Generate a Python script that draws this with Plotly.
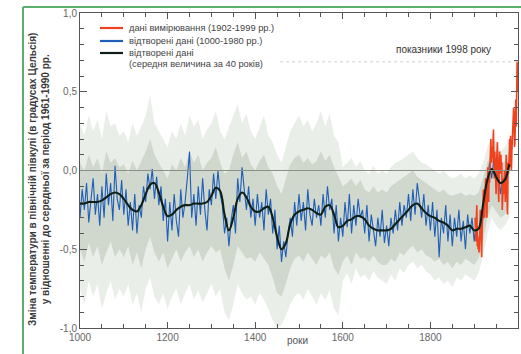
import plotly.graph_objects as go

# ---------------- data ----------------
# reconstructed annual-ish series (5-year resolution), 1000-1980
blue_years = list(range(1000, 1981, 5))
blue_vals = [
    -0.30, -0.12, -0.25, -0.08, -0.33, -0.18, -0.05, -0.28, -0.15, -0.35,
    -0.10, -0.30, -0.02, -0.22, -0.08, -0.32, 0.03, -0.18, -0.25, -0.06,
    -0.28, -0.12, -0.35, -0.20, -0.38, -0.15, -0.40, -0.22, -0.30, -0.10,
    -0.20, -0.02, -0.12, 0.01, -0.18, -0.04, -0.22, -0.10, -0.32, -0.18,
    -0.45, -0.20, -0.38, -0.15, -0.32, -0.42, -0.12, -0.30, -0.20, -0.05,
    0.12, -0.30, -0.15, -0.35, -0.10, -0.28, -0.05, -0.25, -0.38, -0.12,
    -0.22, -0.02, -0.18, 0.00, -0.15, -0.22, -0.40, -0.30, -0.48, -0.32,
    -0.22, -0.40, -0.05, -0.20, 0.02, -0.12, -0.25, -0.10, -0.30, -0.18,
    -0.35, -0.15, -0.30, -0.20, -0.38, -0.12, -0.28, -0.18, -0.40, -0.25,
    -0.50, -0.35, -0.58, -0.45, -0.55, -0.40, -0.30, -0.42, -0.20, -0.35,
    -0.15, -0.32, -0.20, -0.38, -0.12, -0.28, -0.35, -0.18, -0.30, -0.22,
    -0.35, -0.15, -0.30, -0.10, -0.25, -0.18, -0.40, -0.22, -0.45, -0.30,
    -0.42, -0.20, -0.36, -0.15, -0.40, -0.22, -0.35, -0.18, -0.30, -0.25,
    -0.40, -0.22, -0.45, -0.28, -0.38, -0.48, -0.30, -0.42, -0.25, -0.46,
    -0.35, -0.48, -0.30, -0.40, -0.25, -0.38, -0.20, -0.35, -0.22, -0.30,
    -0.15, -0.32, -0.12, -0.28, -0.08, -0.20, -0.30, -0.15, -0.35, -0.22,
    -0.38, -0.20, -0.42, -0.25, -0.55, -0.30, -0.40, -0.22, -0.45, -0.28,
    -0.48, -0.30, -0.42, -0.25, -0.45, -0.32, -0.50, -0.28, -0.40, -0.30,
    -0.45, -0.32, -0.50, -0.38, -0.30, -0.15, -0.08, 0.05, -0.05, 0.08,
    -0.10, 0.02, -0.15, -0.05, -0.12, -0.02, 0.05,
]

# 40-year smoothed reconstruction, 1000-1980
smooth_years = list(range(1000, 1981, 10))
smooth_vals = [
    -0.21, -0.21, -0.20, -0.20, -0.20, -0.19, -0.17, -0.15, -0.14, -0.15,
    -0.18, -0.22, -0.25, -0.26, -0.22, -0.15, -0.09, -0.08, -0.14, -0.23,
    -0.29, -0.28, -0.25, -0.23, -0.22, -0.22, -0.21, -0.21, -0.21, -0.20,
    -0.16, -0.11, -0.13, -0.28, -0.38, -0.30, -0.18, -0.14, -0.17, -0.23,
    -0.26, -0.26, -0.24, -0.23, -0.30, -0.42, -0.50, -0.46, -0.34, -0.28,
    -0.26, -0.25, -0.24, -0.25, -0.27, -0.28, -0.23, -0.22, -0.28, -0.36,
    -0.35, -0.32, -0.31, -0.29, -0.29, -0.31, -0.35, -0.37, -0.38, -0.38,
    -0.38, -0.37, -0.34, -0.31, -0.28, -0.25, -0.22, -0.21, -0.24, -0.27,
    -0.29, -0.30, -0.32, -0.33, -0.35, -0.38, -0.37, -0.37, -0.36, -0.35,
    -0.38, -0.37, -0.22, -0.06, 0.01, -0.04, -0.08, -0.06, 0.04,
]

# uncertainty band (outer, faint), 1000-1980
band_years = list(range(1000, 1981, 10))
band_upper = [
    0.30, 0.22, 0.35, 0.25, 0.32, 0.20, 0.38, 0.28, 0.30, 0.22,
    0.25, 0.18, 0.30, 0.22, 0.28, 0.35, 0.48, 0.30, 0.25, 0.20,
    0.15, 0.25, 0.20, 0.30, 0.22, 0.35, 0.28, 0.32, 0.20, 0.26,
    0.30, 0.38, 0.25, 0.20, 0.28, 0.35, 0.42, 0.30, 0.36, 0.25,
    0.20, 0.28, 0.35, 0.22, 0.18, 0.10, 0.05, 0.15, 0.25, 0.30,
    0.35, 0.28, 0.32, 0.25, 0.30, 0.38, 0.28, 0.36, 0.22, 0.18,
    0.02, 0.05, 0.08, 0.02, 0.06, 0.00, -0.02, 0.03, -0.02, 0.00,
    -0.02, 0.02, 0.05, 0.06, 0.08, 0.10, 0.12, 0.08, 0.05, 0.04,
    0.02, 0.00, -0.02, 0.00, -0.03, -0.05, -0.04, -0.02, -0.05, -0.03,
    -0.05, -0.02, 0.05, 0.15, 0.22, 0.18, 0.12, 0.15, 0.20,
]
band_lower = [
    -0.75, -0.85, -0.70, -0.80, -0.72, -0.88, -0.78, -0.70, -0.82, -0.75,
    -0.80, -0.72, -0.85, -0.78, -0.90, -0.75, -0.68, -0.80, -0.85, -0.78,
    -0.88, -0.80, -0.75, -0.85, -0.78, -0.72, -0.82, -0.76, -0.84, -0.78,
    -0.72, -0.80, -0.75, -0.90, -0.95, -0.85, -0.72, -0.78, -0.82, -0.80,
    -0.85, -0.78, -0.82, -0.88, -0.95, -1.00, -0.98, -0.92, -0.85, -0.80,
    -0.78, -0.82, -0.75, -0.80, -0.85, -0.78, -0.82, -0.76, -0.88, -0.92,
    -0.70, -0.65, -0.72, -0.62, -0.68, -0.66, -0.70, -0.64, -0.68, -0.70,
    -0.72, -0.66, -0.70, -0.62, -0.65, -0.60, -0.58, -0.62, -0.60, -0.64,
    -0.66, -0.70, -0.68, -0.72, -0.70, -0.74, -0.68, -0.70, -0.66, -0.68,
    -0.70, -0.65, -0.55, -0.40, -0.30, -0.35, -0.38, -0.35, -0.30,
]
# uncertainty band (inner, denser core), 1000-1980
core_upper = [
    0.05, 0.00, 0.10, 0.02, 0.08, -0.02, 0.12, 0.05, 0.08, 0.02,
    0.04, -0.02, 0.06, 0.00, 0.06, 0.12, 0.20, 0.10, 0.05, 0.00,
    -0.05, 0.04, 0.00, 0.08, 0.02, 0.12, 0.05, 0.10, 0.00, 0.05,
    0.08, 0.15, 0.05, -0.02, 0.00, 0.10, 0.18, 0.08, 0.12, 0.04,
    0.00, 0.06, 0.10, 0.02, -0.02, -0.10, -0.15, -0.05, 0.04, 0.08,
    0.10, 0.05, 0.08, 0.04, 0.06, 0.12, 0.06, 0.10, 0.02, -0.04,
    -0.10, -0.08, -0.05, -0.10, -0.06, -0.12, -0.14, -0.10, -0.14, -0.12,
    -0.14, -0.10, -0.08, -0.06, -0.04, -0.02, 0.00, -0.04, -0.06, -0.08,
    -0.10, -0.12, -0.14, -0.12, -0.15, -0.16, -0.15, -0.14, -0.16, -0.15,
    -0.16, -0.14, -0.05, 0.05, 0.12, 0.08, 0.04, 0.06, 0.12,
]
core_lower = [
    -0.50, -0.58, -0.46, -0.55, -0.48, -0.60, -0.52, -0.45, -0.55, -0.50,
    -0.55, -0.48, -0.60, -0.52, -0.62, -0.50, -0.42, -0.52, -0.58, -0.52,
    -0.62, -0.56, -0.50, -0.58, -0.52, -0.48, -0.55, -0.50, -0.58, -0.52,
    -0.48, -0.52, -0.50, -0.62, -0.70, -0.60, -0.48, -0.52, -0.56, -0.55,
    -0.58, -0.52, -0.56, -0.60, -0.68, -0.78, -0.80, -0.72, -0.62, -0.56,
    -0.54, -0.58, -0.52, -0.56, -0.60, -0.54, -0.56, -0.52, -0.62, -0.66,
    -0.58, -0.54, -0.60, -0.52, -0.56, -0.55, -0.58, -0.54, -0.58, -0.60,
    -0.60, -0.56, -0.58, -0.52, -0.54, -0.50, -0.48, -0.52, -0.50, -0.54,
    -0.55, -0.58, -0.56, -0.60, -0.58, -0.62, -0.58, -0.60, -0.56, -0.58,
    -0.60, -0.56, -0.45, -0.30, -0.22, -0.26, -0.30, -0.28, -0.22,
]

# instrumental record 1902-1999
red_years = list(range(1902, 2000))
red_vals = [
    -0.30, -0.38, -0.45, -0.30, -0.22, -0.48, -0.42, -0.50, -0.45, -0.52,
    -0.48, -0.38, -0.25, -0.28, -0.45, -0.55, -0.40, -0.30, -0.28, -0.12,
    -0.30, -0.22, -0.30, -0.15, -0.05, -0.12, -0.10, -0.30, -0.02, 0.02,
    -0.05, -0.20, 0.00, -0.08, 0.02, 0.12, 0.20, 0.10, 0.05, 0.15,
    0.08, 0.18, 0.26, 0.10, -0.05, 0.12, 0.02, -0.02, -0.15, 0.05,
    0.10, 0.18, -0.02, -0.10, -0.20, 0.05, 0.12, 0.06, -0.02, 0.10,
    0.02, 0.05, -0.25, -0.18, -0.08, -0.05, -0.15, 0.00, -0.05, -0.20,
    -0.12, 0.10, -0.18, -0.08, -0.28, 0.05, -0.02, 0.02, 0.10, 0.20,
    0.02, 0.22, 0.05, 0.00, 0.12, 0.18, 0.28, 0.25, 0.40, 0.35,
    0.15, 0.18, 0.30, 0.45, 0.28, 0.48, 0.69, 0.50,
]

y_tick_vals = [-1.0, -0.5, 0.0, 0.5, 1.0]
y_tick_text = ["-1,0", "-0,5", "0,0", "0,5", "1,0"]
x_tick_vals = [1000, 1200, 1400, 1600, 1800, 2000]

legend_labels = [
    "дані вимірювання (1902-1999 рр.)",
    "відтворені дані (1000-1980 рр.)",
    "відтворені дані",
    "(середня величина за 40 років)",
]
y_title = ["Зміна температури в північній півкулі (в градусах Цельсія)",
           "у відношенні до середньої за період 1961-1990 рр."]
x_title = "роки"
note_1998 = "показники 1998 року"

# ---------------- geometry helpers ----------------
W, H = 521, 354
L, R, T, B = 80, 518, 13, 328


def px_x(p):
    return (p - L) / (R - L)


def px_y(p):
    return (B - p) / (B - T)


RED = "#f0401c"
BLUE = "#1f5fb8"
BLACK = "#0f1f18"
BAND_OUT = "rgba(200,210,195,0.38)"
BAND_IN = "rgba(185,196,180,0.55)"
FONT = "Liberation Sans, Arial, sans-serif"

fig = go.Figure()

# uncertainty bands
for up, lo, col in [(band_upper, band_lower, BAND_OUT), (core_upper, core_lower, BAND_IN)]:
    fig.add_trace(go.Scatter(x=band_years, y=up, mode="lines",
                             line=dict(width=0, color=col), hoverinfo="skip",
                             showlegend=False))
    fig.add_trace(go.Scatter(x=band_years, y=lo, mode="lines",
                             line=dict(width=0, color=col), fill="tonexty",
                             fillcolor=col, hoverinfo="skip", showlegend=False))

# zero line
fig.add_hline(y=0, line=dict(color="#8a8f88", width=1))

# reconstructed (blue)
fig.add_trace(go.Scatter(x=blue_years, y=blue_vals, mode="lines",
                         line=dict(color=BLUE, width=1.1), showlegend=False))
# instrumental (red)
fig.add_trace(go.Scatter(x=red_years, y=red_vals, mode="lines",
                         line=dict(color=RED, width=1.6), showlegend=False))
# smoothed (black)
fig.add_trace(go.Scatter(x=smooth_years, y=smooth_vals, mode="lines",
                         line=dict(color=BLACK, width=2.1, shape="spline"),
                         showlegend=False))

# 1998 reference dotted line
v1998 = red_vals[red_years.index(1998)]
fig.add_shape(type="line", xref="x", yref="y", x0=1457, x1=1998,
              y0=v1998, y1=v1998,
              line=dict(color="#cfcfcf", width=1, dash="dot"))
fig.add_annotation(x=1829, y=0.77, xref="x", yref="y", text=note_1998,
                   showarrow=False, font=dict(family=FONT, size=10, color="#333"))

# legend (manual)
leg_colors = [RED, BLUE, BLACK]
leg_y = [28, 41, 53]
for c, yy in zip(leg_colors, leg_y):
    fig.add_shape(type="line", xref="paper", yref="paper",
                  x0=px_x(100), x1=px_x(123), y0=px_y(yy), y1=px_y(yy),
                  line=dict(color=c, width=2.2))
for txt, yy in zip(legend_labels, [28, 41, 53, 64]):
    fig.add_annotation(x=px_x(127), y=px_y(yy), xref="paper", yref="paper",
                       text=txt, showarrow=False, xanchor="left", yanchor="middle",
                       font=dict(family=FONT, size=9.3, color="#444"))

# axis titles
fig.add_annotation(x=px_x(39), y=px_y(180), xref="paper", yref="paper",
                   text="<b>" + y_title[0] + "</b><br><b>" + y_title[1] + "</b>",
                   textangle=-90, showarrow=False, xanchor="center", yanchor="middle",
                   font=dict(family=FONT, size=10, color="#3a3a3a"))
fig.add_annotation(x=px_x(297), y=px_y(348), xref="paper", yref="paper",
                   text=x_title, showarrow=False,
                   font=dict(family=FONT, size=10, color="#555"))

# green frame
fig.add_shape(type="line", xref="paper", yref="paper",
              x0=px_x(23), x1=px_x(530), y0=px_y(7), y1=px_y(7),
              line=dict(color="#5aae6e", width=2))
fig.add_shape(type="line", xref="paper", yref="paper",
              x0=px_x(23), x1=px_x(23), y0=px_y(7), y1=px_y(360),
              line=dict(color="#5aae6e", width=2))

axis_common = dict(showline=True, linecolor="#555", linewidth=1, mirror="ticks",
                   ticks="inside", tickcolor="#555", showgrid=False, zeroline=False,
                   automargin=False,
                   tickfont=dict(family=FONT, size=10, color="#666"))

fig.update_xaxes(range=[1000, 2000], tickvals=x_tick_vals, ticklen=6,
                 minor=dict(dtick=50, tick0=1000, ticks="inside", ticklen=4,
                            tickcolor="#555", showgrid=False),
                 **axis_common)
fig.update_yaxes(range=[-1.0, 1.0], tickvals=y_tick_vals, ticktext=y_tick_text,
                 ticklen=7,
                 minor=dict(dtick=0.1, tick0=0, ticks="inside", ticklen=4,
                            tickcolor="#555", showgrid=False),
                 **axis_common)

fig.update_layout(width=W, height=H, margin=dict(l=L, r=W - R, t=T, b=H - B),
                  paper_bgcolor="white", plot_bgcolor="white", showlegend=False,
                  hovermode=False)

fig.write_html("out.html", config={"displayModeBar": False, "staticPlot": True},
               post_script="document.body.style.margin='0';document.body.style.overflow='hidden';")
